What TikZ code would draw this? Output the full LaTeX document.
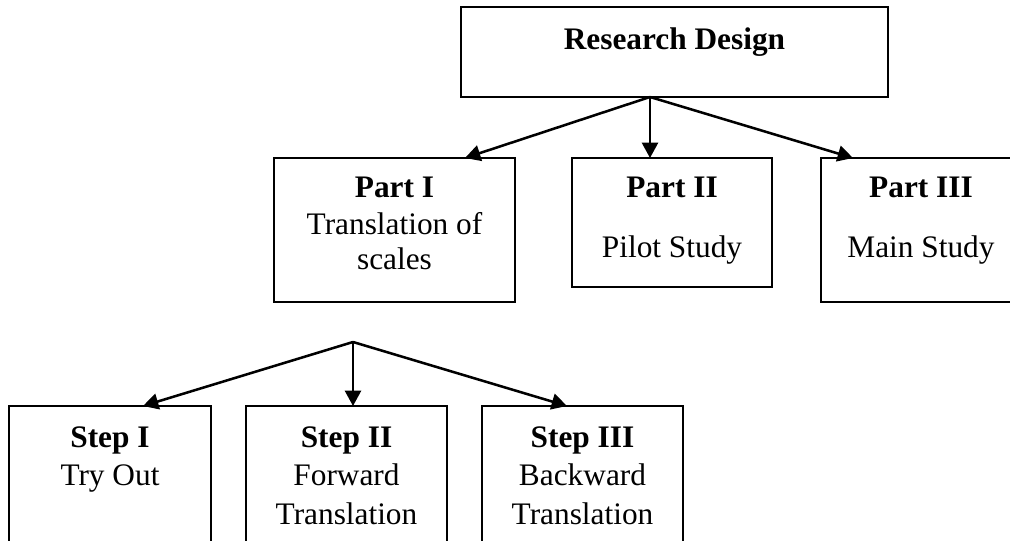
\documentclass[tikz,border=0pt]{standalone}
\usepackage{fontspec}
\setmainfont{Liberation Serif}
\usetikzlibrary{arrows.meta,calc}
\tikzset{
  box/.style={draw=black, line width=1.5pt, rectangle, inner sep=0pt, outer sep=0pt},
  txt/.style={anchor=base, inner sep=0pt, font=\fontsize{23.5}{28}\selectfont},
  htxt/.style={txt, font=\fontsize{23.5}{28}\selectfont\bfseries},
  arr/.style={line width=1.9pt, -{Triangle[length=11.5pt,width=12pt]}}
}
\begin{document}
\begin{tikzpicture}[x=0.75pt,y=-0.75pt]
\useasboundingbox (0,0) rectangle (1010,541);
\clip (0,0) rectangle (1010,541);
% boxes
\node[box, minimum width=427*0.75pt, minimum height=90*0.75pt] (rd) at (674.5,52) {};
\node[box, minimum width=241*0.75pt, minimum height=144*0.75pt] (p1) at (394.5,230) {};
\node[box, minimum width=200*0.75pt, minimum height=129*0.75pt] (p2) at (672,222.5) {};
\node[box, minimum width=200*0.75pt, minimum height=144*0.75pt] (p3) at (921,230) {};
\node[box, minimum width=202*0.75pt, minimum height=160*0.75pt] (s1) at (110,486) {};
\node[box, minimum width=201*0.75pt, minimum height=160*0.75pt] (s2) at (346.5,486) {};
\node[box, minimum width=201*0.75pt, minimum height=160*0.75pt] (s3) at (582.5,486) {};
% texts
\node[htxt] (rdt) at (674.5,50) {Research Design};
\node[htxt] (p1h) at (394.5,198) {Part I};
\node[txt] (p1a) at (394.5,235) {Translation of};
\node[txt] (p1b) at (394.5,270) {scales};
\node[htxt] (p2h) at (672,198) {Part II};
\node[txt] (p2a) at (672,258) {Pilot Study};
\node[htxt] (p3h) at (921,198) {Part III};
\node[txt] (p3a) at (921,258) {Main Study};
\node[htxt] (s1h) at (110,447) {Step I};
\node[txt] (s1a) at (110,485) {Try Out};
\node[htxt] (s2h) at (346.5,447) {Step II};
\node[txt] (s2a) at (346.5,485) {Forward};
\node[txt] (s2b) at (346.5,524) {Translation};
\node[htxt] (s3h) at (582.5,447) {Step III};
\node[txt] (s3a) at (582.5,485) {Backward};
\node[txt] (s3b) at (582.5,524) {Translation};
% connectors
\coordinate (top) at (650,97);
\coordinate (fork) at (353,342);
\draw[arr] (top) -- ($(p1.north west)+(191,0)$);
\draw[arr] (top) -- ($(p2.north west)+(78,0)$);
\draw[arr] (top) -- ($(p3.north west)+(32,0)$);
\draw[arr] (fork) -- ($(s1.north west)+(134,0)$);
\draw[arr] (fork) -- ($(s2.north west)+(107,0)$);
\draw[arr] (fork) -- ($(s3.north west)+(85,0)$);
\end{tikzpicture}
\end{document}
